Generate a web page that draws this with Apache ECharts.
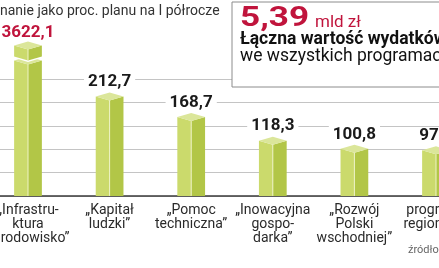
<!DOCTYPE html>
<html><head><meta charset="utf-8">
<script src="https://cdn.jsdelivr.net/npm/echarts@6/dist/echarts.min.js"></script>
<style>html,body{margin:0;padding:0;background:#fff}#c{width:439px;height:268px}</style>
</head><body><div id="c"></div>
<script>
const categories = ['„Infrastru-\nktura\ni środowisko”', '„Kapitał\nludzki”', '„Pomoc\ntechniczna”', '„Inowacyjna\ngospo-\ndarka”', '„Rozwój\nPolski\nwschodniej”', 'programy\nregionalne'];
const values = [3622.1, 212.7, 168.7, 118.3, 100.8, 97.5];
const yTicks = [0, 50, 100, 150, 200, 250];
const titleText = 'nanie jako proc. planu na I półrocze';
const boxNumber = '5,39';
const boxUnit = 'mld zł';
const boxLine1 = 'Łączna wartość wydatków';
const boxLine2 = 'we wszystkich programach';
const sourceText = 'źródło';

const chart = echarts.init(document.getElementById('c'), null, {renderer: 'canvas'});
const FONT = 'Roboto, "Noto Sans", sans-serif';
const BASE_Y = 196, PX_PER_50 = 23.4, AX_MAX = 330;
const gridTop = BASE_Y - AX_MAX / 50 * PX_PER_50;
const gridLineColors = yTicks.map(() => '#c4c4c4').concat(['rgba(0,0,0,0)', 'rgba(0,0,0,0)', 'rgba(0,0,0,0)']);

function fmt(v) { return v.toFixed(1).replace('.', ','); }

function renderItem(params, api) {
  const idx = params.dataIndex;
  const v = api.value(1);
  const base = api.coord([idx, 0]);
  const topPt = api.coord([idx, v]);
  const cs = params.coordSys;
  const hw = api.size([1, 0])[0] * 0.17;
  const d = 4;
  const cx = base[0], yb = base[1];
  const broken = topPt[1] < cs.y + d;
  const yv = broken ? cs.y + d : topPt[1];
  const cTop = '#dbe69a', cLeft = '#cbda6c', cRight = '#b2c647', cLine = '#eef3c6';
  const kids = [];
  function box(ys, ye, flatBottom) {
    const eb = flatBottom ? 0 : d;
    kids.push({type: 'polygon', shape: {points: [[cx - hw, ys], [cx, ys + d], [cx, ye + eb], [cx - hw, ye]]}, style: {fill: cLeft}});
    kids.push({type: 'polygon', shape: {points: [[cx, ys + d], [cx + hw, ys], [cx + hw, ye], [cx, ye + eb]]}, style: {fill: cRight}});
    kids.push({type: 'polygon', shape: {points: [[cx - hw, ys], [cx, ys - d], [cx + hw, ys], [cx, ys + d]]}, style: {fill: cTop}});
    kids.push({type: 'line', shape: {x1: cx, y1: ys + d, x2: cx, y2: ye + eb}, style: {stroke: cLine, lineWidth: 1}});
  }
  if (broken) {
    box(yv + 15, yb, true);
    const capBottom = yv + 11;
    kids.push({type: 'polygon', shape: {points: [[cx - hw - 1, yv], [cx, yv - d - 1], [cx + hw + 1, yv], [cx + hw + 1, capBottom + 1], [cx, capBottom + d + 1.5], [cx - hw - 1, capBottom + 1]]}, style: {fill: '#fff'}});
    box(yv, capBottom, false);
  } else {
    box(yv, yb, true);
  }
  kids.push({type: 'text', x: cx, y: yv - d - (broken ? 0 : 2), style: {
    text: fmt(v), align: 'center', verticalAlign: 'bottom',
    font: 'bold 17px ' + FONT, fill: broken ? '#c0143c' : '#1a1a1a',
    backgroundColor: broken ? 'rgba(0,0,0,0)' : '#fff', padding: [0, 4, 0, 4]
  }, z2: 10});
  return {type: 'group', children: kids};
}

chart.setOption({
  animation: false,
  grid: {left: -12.8, width: 489.6, top: gridTop, bottom: 268 - BASE_Y, containLabel: false, outerBoundsMode: 'none'},
  xAxis: {
    type: 'category', data: categories,
    axisLine: {show: true, lineStyle: {color: '#3a3a3a', width: 1.5}},
    axisTick: {show: false},
    axisLabel: {interval: 0, margin: 7, color: '#2a2a2a', fontFamily: FONT, fontSize: 14, lineHeight: 14, hideOverlap: false}
  },
  yAxis: {
    type: 'value', min: 0, max: AX_MAX, interval: 50,
    axisLine: {show: false}, axisTick: {show: false}, axisLabel: {show: false},
    splitLine: {show: true, lineStyle: {color: gridLineColors, width: 1}}
  },
  series: [{
    type: 'custom', renderItem: renderItem,
    data: values.map((v, i) => [i, v]),
    encode: {x: 0, y: 1}, z: 3
  }],
  graphic: [
    {type: 'text', x: 0, y: 11, style: {text: titleText, font: '14px ' + FONT, fill: '#333', verticalAlign: 'middle'}, z: 60},
    {type: 'rect', shape: {x: 232, y: 2, width: 230, height: 85}, style: {fill: '#fff', stroke: '#8c8c8c', lineWidth: 1}, z: 50},
    {type: 'text', x: 240, y: 19.5, scaleX: 1.3, style: {text: boxNumber, font: 'bold 27px ' + FONT, fill: '#c0143c', verticalAlign: 'middle'}, z: 51},
    {type: 'text', x: 315, y: 22.5, style: {text: boxUnit, font: '17px ' + FONT, fill: '#c0143c', verticalAlign: 'middle'}, z: 51},
    {type: 'text', x: 240, y: 40, style: {text: boxLine1, font: 'bold 17.5px ' + FONT, fill: '#111', verticalAlign: 'middle'}, z: 51},
    {type: 'text', x: 240, y: 57, style: {text: boxLine2, font: '17.5px ' + FONT, fill: '#111', verticalAlign: 'middle'}, z: 51},
    {type: 'text', x: 408, y: 250, style: {text: sourceText, font: '11px ' + FONT, fill: '#666', verticalAlign: 'middle'}, z: 51}
  ]
});
</script></body></html>
